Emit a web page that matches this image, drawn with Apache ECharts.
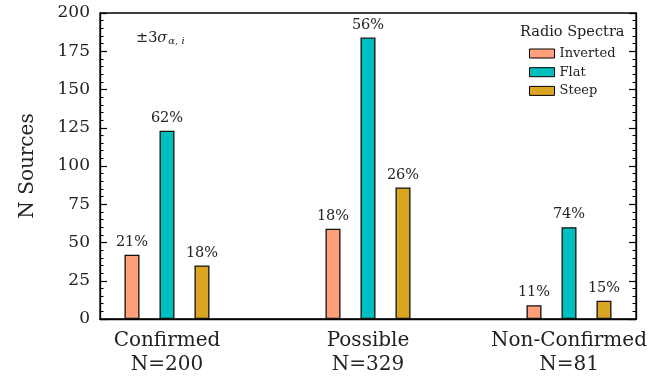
<!DOCTYPE html>
<html>
<head>
<meta charset="utf-8">
<script src="https://cdn.jsdelivr.net/npm/echarts@6/dist/echarts.min.js"></script>
<style>
  html, body { margin: 0; padding: 0; background: #ffffff; }
  #chart { width: 671px; height: 381px; }
</style>
</head>
<body>
<div id="chart"></div>
<script>
// Source classes and number of sources per radio-spectrum type
const groups = ['Confirmed', 'Possible', 'Non-Confirmed'];
const inverted = [42, 59, 9];
const flat = [123, 184, 60];
const steep = [35, 86, 12];
const seriesNames = ['Inverted', 'Flat', 'Steep'];
const seriesColors = ['#FFA07A', '#00BFBF', '#DAA520'];
const groupPositions = [0, 1, 2];
const yMax = 200;
const yStep = 25;

const FONT = 'DejaVu Serif';
const totals = groups.map((_, i) => inverted[i] + flat[i] + steep[i]);
const allValues = [inverted, flat, steep];

function pct(v, i) {
  return Math.round(v * 100 / totals[i]) + '%';
}

const series = allValues.map((vals, s) => ({
  name: seriesNames[s],
  type: 'bar',
  barWidth: 15,
  barGap: '133.33%',
  data: vals.map((v, i) => [groupPositions[i], v]),
  itemStyle: { color: seriesColors[s], borderColor: '#111', borderWidth: 1.3 },
  label: {
    show: true,
    position: 'top',
    distance: 5,
    fontFamily: FONT,
    fontSize: 14.5,
    color: '#222',
    formatter: p => pct(p.value[1], p.dataIndex)
  }
}));

const yAxisCommon = {
  type: 'value',
  min: 0, max: yMax, interval: yStep,
  axisLine: { show: true, onZero: false, lineStyle: { color: '#000', width: 1.3 } },
  axisTick: { show: true, inside: true, length: 7, lineStyle: { color: '#000', width: 1.2 } },
  minorTick: { show: true, splitNumber: 5, length: 3.5, lineStyle: { color: '#000', width: 1 } },
  splitLine: { show: false }
};

const chart = echarts.init(document.getElementById('chart'), null, { renderer: 'canvas' });
chart.setOption({
  animation: false,
  backgroundColor: '#ffffff',
  grid: {
    left: 100, right: 35, top: 13, bottom: 62,
    show: true, borderColor: '#000', borderWidth: 1.3, backgroundColor: 'transparent'
  },
  title: [
    {
      text: 'Radio Spectra',
      left: 515, top: 20,
      textStyle: { fontFamily: FONT, fontSize: 14.5, fontWeight: 'normal', color: '#222' }
    },
    {
      text: '{a|±3}{s|σ}{sub|α, i}',
      left: 131, top: 25,
      textStyle: {
        fontWeight: 'normal',
        rich: {
          a: { fontFamily: FONT, fontSize: 14.5, fontWeight: 'normal', color: '#222' },
          s: { fontFamily: FONT, fontSize: 14.5, fontStyle: 'italic', fontWeight: 'normal', color: '#222' },
          sub: { fontFamily: FONT, fontSize: 10, fontStyle: 'italic', fontWeight: 'normal', color: '#222', padding: [6, 0, 0, 1] }
        }
      }
    }
  ],
  legend: {
    orient: 'vertical',
    left: 524, top: 42,
    itemWidth: 25, itemHeight: 9, itemGap: 5.7,
    icon: 'rect',
    data: seriesNames,
    textStyle: { fontFamily: FONT, fontSize: 13, color: '#222' },
    itemStyle: { borderColor: '#000', borderWidth: 1 }
  },
  xAxis: [{
    type: 'value',
    min: -1 / 3,
    max: 7 / 3,
    axisLine: { show: true, onZero: false, lineStyle: { color: '#000', width: 1.3 } },
    axisTick: { show: false },
    splitLine: { show: false },
    axisLabel: {
      customValues: groupPositions,
      margin: 10,
      fontFamily: FONT,
      fontSize: 20,
      lineHeight: 24,
      color: '#222',
      formatter: v => {
        const i = Math.round(v);
        return groups[i] + '\nN=' + totals[i];
      }
    }
  }],
  yAxis: [
    Object.assign({}, yAxisCommon, {
      name: 'N Sources',
      nameLocation: 'middle',
      nameGap: 62,
      nameTextStyle: { fontFamily: FONT, fontSize: 20, color: '#222' },
      axisLabel: { margin: 10, fontFamily: FONT, fontSize: 17, color: '#222' }
    }),
    Object.assign({}, yAxisCommon, {
      position: 'right',
      axisLabel: { show: false }
    })
  ],
  series: series
});
</script>
</body>
</html>
